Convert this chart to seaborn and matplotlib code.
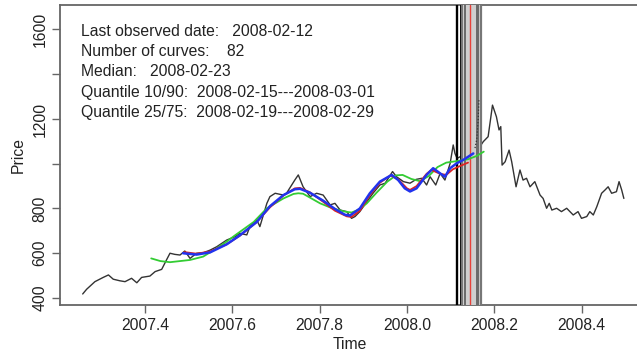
import datetime as dt

import matplotlib
matplotlib.use("Agg")
import matplotlib.pyplot as plt
import numpy as np
import pandas as pd
import seaborn as sns

# ---- observed price series (decimal year, price) ----
price_t = [2007.257, 2007.266, 2007.285, 2007.304, 2007.316, 2007.327, 2007.342, 2007.354,
           2007.369, 2007.381, 2007.392, 2007.411, 2007.423, 2007.438, 2007.449, 2007.457,
           2007.468, 2007.480, 2007.491, 2007.503, 2007.518, 2007.533, 2007.549, 2007.564,
           2007.587, 2007.606, 2007.617, 2007.633, 2007.640, 2007.656, 2007.663, 2007.679,
           2007.686, 2007.698, 2007.717, 2007.724, 2007.743, 2007.751, 2007.762, 2007.778,
           2007.793, 2007.808, 2007.824, 2007.835, 2007.847, 2007.862, 2007.873, 2007.881,
           2007.892, 2007.908, 2007.923, 2007.938, 2007.950, 2007.967, 2007.976, 2007.992,
           2008.007, 2008.021, 2008.034, 2008.045, 2008.053, 2008.066, 2008.076, 2008.087,
           2008.099, 2008.106, 2008.110, 2008.115, 2008.130, 2008.150, 2008.167, 2008.175,
           2008.186, 2008.196, 2008.205, 2008.211, 2008.215, 2008.218, 2008.225, 2008.234,
           2008.240, 2008.250, 2008.259, 2008.266, 2008.274, 2008.282, 2008.293, 2008.305,
           2008.312, 2008.320, 2008.326, 2008.332, 2008.343, 2008.354, 2008.366, 2008.381,
           2008.392, 2008.400, 2008.412, 2008.419, 2008.427, 2008.435, 2008.446, 2008.454,
           2008.461, 2008.469, 2008.480, 2008.486, 2008.492, 2008.497]
price_v = [418, 439, 473, 492, 503, 484, 477, 473,
           488, 468, 492, 498, 518, 528, 570, 600,
           595, 592, 610, 577, 600, 602, 614, 629,
           659, 674, 689, 682, 719, 749, 719, 823,
           853, 868, 860, 868, 927, 950, 897, 853,
           868, 860, 816, 823, 793, 786, 756, 764,
           786, 830, 870, 905, 913, 965, 942, 920,
           913, 930, 935, 905, 942, 905, 957, 927,
           1002, 1084, 1046, 1024, 1040, 1060, 1076, 1099,
           1121, 1262, 1210, 1151, 1166, 994, 1009, 1061,
           1009, 897, 972, 927, 935, 897, 920, 860,
           845, 801, 823, 793, 801, 786, 801, 771,
           786, 756, 764, 786, 771, 808, 868, 883,
           897, 868, 875, 920, 883, 845]

# ---- fitted LPPL curves ----
blue_t = [2007.487, 2007.518, 2007.549, 2007.587, 2007.617, 2007.656, 2007.686, 2007.717,
          2007.743, 2007.755, 2007.778, 2007.808, 2007.835, 2007.858, 2007.869, 2007.892,
          2007.915, 2007.938, 2007.965, 2007.980, 2007.995, 2008.007, 2008.022, 2008.045,
          2008.060, 2008.076, 2008.087, 2008.099, 2008.114, 2008.129, 2008.152]
blue_v = [600, 594, 604, 640, 680, 740, 810, 860,
          886, 888, 870, 835, 798, 772, 768, 800,
          868, 920, 950, 927, 890, 876, 890, 950,
          980, 957, 942, 980, 1002, 1017, 1046]

red_t = [2007.490, 2007.518, 2007.549, 2007.587, 2007.617, 2007.656, 2007.686, 2007.717,
         2007.743, 2007.755, 2007.778, 2007.808, 2007.835, 2007.862, 2007.873, 2007.892,
         2007.915, 2007.938, 2007.962, 2007.980, 2008.000, 2008.007, 2008.022, 2008.045,
         2008.056, 2008.076, 2008.090, 2008.105, 2008.122, 2008.140]
red_v = [605, 598, 608, 640, 678, 740, 805, 858,
         890, 892, 872, 830, 790, 765, 762, 790,
         860, 915, 948, 930, 890, 883, 900, 955,
         972, 955, 950, 975, 990, 1005]

green_t = [2007.414, 2007.435, 2007.457, 2007.480, 2007.503, 2007.533, 2007.564, 2007.587,
           2007.606, 2007.649, 2007.679, 2007.717, 2007.740, 2007.751, 2007.762, 2007.801,
           2007.830, 2007.858, 2007.873, 2007.890, 2007.908, 2007.930, 2007.955, 2007.975,
           2007.990, 2008.010, 2008.030, 2008.050, 2008.070, 2008.090, 2008.115, 2008.140,
           2008.160, 2008.176]
green_v = [577, 565, 560, 565, 570, 585, 622, 652,
           680, 740, 801, 845, 865, 868, 866, 823,
           800, 786, 782, 795, 823, 870, 920, 948,
           950, 932, 922, 945, 985, 1005, 1012, 1020,
           1035, 1054]

# steep forecast tail close to the critical time
tail_t = [2008.156, 2008.160, 2008.163, 2008.165]
tail_v = [1070, 1110, 1190, 1290]

# ---- critical time estimates ----
last_observed = "2008-02-12"
n_curves = 82
median_date = "2008-02-23"
q10, q90 = "2008-02-15", "2008-03-01"
q25, q75 = "2008-02-19", "2008-02-29"
band_lo, band_hi = "2008-02-16", "2008-03-03"

y_ticks = [400, 600, 800, 1000, 1200, 1400, 1600]
y_ticklabels = ["400", "600", "800", "", "1200", "", "1600"]
x_ticks = [2007.4, 2007.6, 2007.8, 2008.0, 2008.2, 2008.4]


def decimal_year(s):
    d = dt.date.fromisoformat(s)
    start = dt.date(d.year, 1, 1)
    days = (dt.date(d.year + 1, 1, 1) - start).days
    return d.year + (d - start).days / days


sns.set_style("ticks")
plt.rcParams["font.family"] = ["Liberation Sans", "DejaVu Sans"]

fig = plt.figure(figsize=(6.37, 3.55), dpi=100)
ax = fig.add_axes([60 / 637, 1 - 305 / 355, 580 / 637, 300 / 355])

ink = "#222222"
frame = "#666666"

# observed prices (sit beneath the estimate band)
price_df = pd.DataFrame({"t": price_t, "v": price_v})
sns.lineplot(data=price_df, x="t", y="v", ax=ax, color="#333333", lw=1.0,
             estimator=None, sort=False, zorder=2)

# critical time band and lines
ax.axvspan(decimal_year(band_lo), decimal_year(band_hi), color="#cfcfcf", lw=0, zorder=3)
for d, c, w in [(last_observed, "black", 1.7), (q10, "#111111", 1.4),
                (band_lo, "#777777", 1.4), (q25, "#6a6a6a", 1.4),
                (q75, "#6a6a6a", 1.4), (q90, "#6a6a6a", 1.4),
                (band_hi, "#777777", 1.6), (median_date, "#e8413a", 1.0)]:
    ax.axvline(decimal_year(d), color=c, lw=w, zorder=4)

# fitted curves
for tt, vv, col, lw in [(green_t, green_v, "#33cc33", 1.3),
                        (red_t, red_v, "#dd2222", 1.3),
                        (blue_t, blue_v, "#2233ee", 1.8)]:
    sns.lineplot(x=tt, y=vv, ax=ax, color=col, lw=lw, estimator=None,
                 sort=False, zorder=5)
ax.plot(tail_t, tail_v, color="#333333", lw=0.9, ls=(0, (1, 1.5)), zorder=5)

ax.set_xlim(2007.205, 2008.534)
ax.set_ylim(368.7, 1709.4)
ax.set_xticks(x_ticks)
ax.set_xticklabels([f"{v:.1f}" for v in x_ticks])
ax.set_yticks(y_ticks)
ax.set_yticklabels(y_ticklabels, rotation=90, va="center")
ax.tick_params(axis="both", direction="out", length=6, width=1.0, color=frame,
               labelsize=11.3, labelcolor=ink, pad=3)
for s in ax.spines.values():
    s.set_color(frame)
    s.set_linewidth(1.3)

ax.set_xlabel("Time", fontsize=11.3, color=ink, labelpad=3)
ax.set_ylabel("Price", fontsize=11.3, color=ink, labelpad=5)

lines = [f"Last observed date:   {last_observed}",
         f"Number of curves:    {n_curves}",
         f"Median:   {median_date}",
         f"Quantile 10/90:  {q10}---{q90}",
         f"Quantile 25/75:  {q25}---{q75}"]
for i, s in enumerate(lines):
    ax.text(81 / 637, 1 - (32 + 20 * i) / 355, s, transform=fig.transFigure,
            fontsize=11.3, color=ink, va="center", ha="left")

fig.savefig("out.png", dpi=100)
